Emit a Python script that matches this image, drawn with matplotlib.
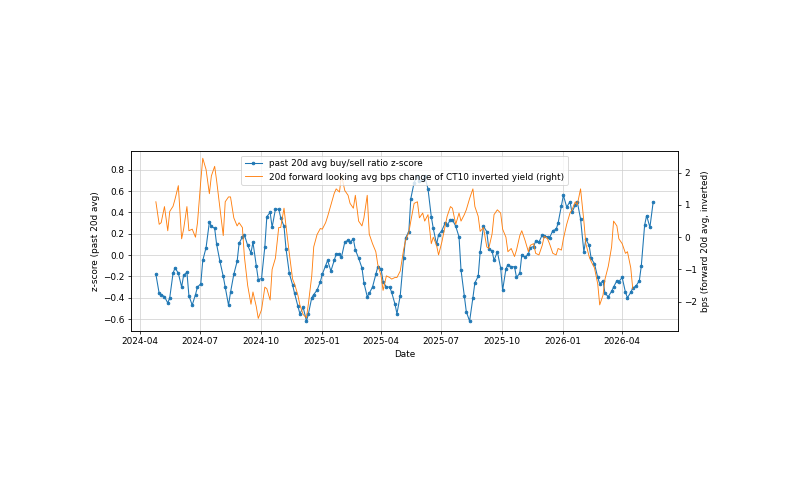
import numpy as np
import pandas as pd
import matplotlib
matplotlib.use("Agg")
import matplotlib.pyplot as plt
import matplotlib.dates as mdates

# past 20d avg buy/sell ratio z-score (read every 3 business days)
zscore = [
    -0.18, -0.36, -0.37, -0.39, -0.45, -0.40, -0.17, -0.12, -0.17, -0.30,
    -0.19, -0.16, -0.38, -0.47, -0.37, -0.30, -0.27, -0.05, 0.07, 0.31,
    0.27, 0.25, 0.10, -0.06, -0.20, -0.30, -0.47, -0.35, -0.18, -0.06,
    0.11, 0.17, 0.19, 0.09, 0.02, 0.12, -0.10, -0.23, -0.22, 0.08,
    0.36, 0.40, 0.26, 0.43, 0.43, 0.35, 0.27, 0.06, -0.17, -0.28,
    -0.36, -0.48, -0.55, -0.49, -0.62, -0.55, -0.40, -0.37, -0.33, -0.25,
    -0.18, -0.10, -0.05, -0.15, -0.05, 0.01, 0.01, -0.02, 0.12, 0.14,
    0.12, 0.15, 0.05, -0.03, -0.12, -0.26, -0.39, -0.36, -0.30, -0.18,
    -0.11, -0.13, -0.25, -0.30, -0.30, -0.35, -0.46, -0.55, -0.38, -0.03,
    0.16, 0.22, 0.53, 0.68, 0.74, 0.69, 0.70, 0.74, 0.62, 0.36,
    0.25, 0.10, 0.19, 0.23, 0.30, 0.28, 0.33, 0.33, 0.27, 0.17,
    -0.14, -0.38, -0.53, -0.62, -0.40, -0.26, -0.20, 0.03, 0.27, 0.22,
    0.06, 0.04, -0.05, 0.03, -0.12, -0.33, -0.13, -0.09, -0.11, -0.11,
    -0.21, -0.17, 0.00, -0.02, 0.01, 0.07, 0.08, 0.13, 0.12, 0.19,
    0.18, 0.17, 0.16, 0.23, 0.24, 0.30, 0.46, 0.56, 0.45, 0.50,
    0.40, 0.47, 0.50, 0.34, 0.03, 0.15, 0.09, -0.03, -0.08, -0.21,
    -0.27, -0.24, -0.36, -0.39, -0.34, -0.30, -0.24, -0.25, -0.21, -0.35,
    -0.40, -0.35, -0.31, -0.29, -0.24, -0.10, 0.28, 0.37, 0.26, 0.50,
]

# 20d forward looking avg bps change of CT10 inverted yield (ends 20d early)
fwd_bps = [
    1.10, 0.40, 0.45, 0.95, 0.20, 0.80, 0.96, 1.18, 1.60, -0.05,
    0.25, 0.95, 0.20, 0.25, 0.00, 0.45, 1.75, 2.45, 2.10, 1.35,
    1.90, 2.20, 1.75, 0.90, 0.05, 1.10, 1.25, 1.25, 0.60, 0.35,
    0.45, 0.30, -0.60, -1.50, -2.08, -1.70, -2.15, -2.52, -2.25, -1.55,
    -1.60, -1.95, -1.00, -0.65, 0.30, 0.30, 0.90, 0.35, -0.50, -1.30,
    -1.45, -1.80, -2.10, -2.40, -2.50, -2.05, -1.20, -0.30, 0.08, 0.27,
    0.25, 0.45, 0.64, 1.00, 1.36, 1.50, 1.40, 1.93, 1.45, 1.30,
    1.05, 0.90, 1.30, 0.50, 0.35, 0.60, 1.30, 0.10, -0.20, -0.45,
    -0.85, -1.20, -1.65, -1.20, -1.25, -1.30, -1.25, -1.25, -1.05, -0.40,
    -0.10, 0.15, 0.50, 1.05, 1.10, 0.60, 0.75, 0.50, 0.70, -0.20,
    0.00, -0.25, -0.55, -0.15, 0.35, 0.65, 0.95, 0.90, 0.40, 0.75,
    0.50, 0.70, 0.85, 1.20, 1.50, 0.95, 0.65, 0.18, 0.30, -0.30,
    -0.35, 0.10, 0.70, 0.85, 0.75, 0.25, 0.00, -0.45, -0.35, -0.60,
    -0.40, 0.05, 0.20, -0.10, -0.45, -0.25, -0.20, -0.50, -0.55, -0.25,
    0.03, -0.05, -0.20, -0.50, -0.55, -0.35, -0.40, -0.05, 0.40, 0.75,
    0.85, 1.10, 1.00, 1.50, 0.50, -0.20, -0.60, -0.75, -0.95, -1.45,
    -2.10, -1.80, -1.30, -0.90, -0.30, 0.50, 0.35, -0.05, -0.20, -0.50,
    -0.45, -0.95, -1.60,
]

start_date = "2024-04-25"
dates = pd.bdate_range(start_date, periods=len(zscore), freq="3B")
fwd = pd.Series(fwd_bps + [np.nan] * (len(zscore) - len(fwd_bps)), index=dates)
z = pd.Series(zscore, index=dates)

# small dpi so default sizes scale down like the reference
fig = plt.figure(figsize=(794 / 64, 494 / 64), dpi=64)
ax = fig.add_axes([0.165, 0.330, 0.689, 0.364])

l1, = ax.plot(z.index, z.values, marker=".", markersize=6, linewidth=1.2,
              color="#1f77b4", label="past 20d avg buy/sell ratio z-score")
ax.grid(True, color="#cfcfcf")
ax.set_ylim(-0.712, 0.974)
ax.set_yticks(np.arange(-0.6, 0.81, 0.2))
ax.set_ylabel("z-score (past 20d avg)")
ax.set_xlabel("Date")
ax.xaxis.set_major_locator(mdates.MonthLocator(bymonth=[1, 4, 7, 10]))
ax.xaxis.set_major_formatter(mdates.DateFormatter("%Y-%m"))

ax2 = ax.twinx()
l2, = ax2.plot(fwd.index, fwd.values, color="#ff7f0e", linewidth=1.0,
               label="20d forward looking avg bps change of CT10 inverted yield (right)")
ax2.set_ylim(-2.91, 2.67)
ax2.set_yticks([-2, -1, 0, 1, 2])
ax2.set_ylabel("bps (forward 20d avg, inverted)")

ax2.legend(handles=[l1, l2], loc="upper center")

fig.savefig("out.png", dpi=64)
